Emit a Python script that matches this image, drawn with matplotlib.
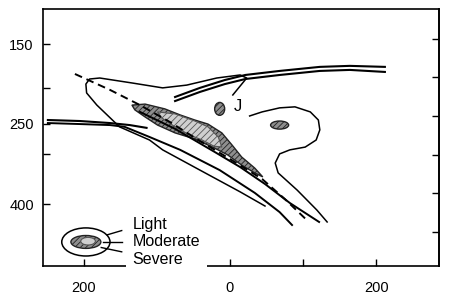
import numpy as np
import matplotlib.pyplot as plt
from matplotlib.patches import Ellipse, Polygon

plt.rcParams['font.family'] = ['Liberation Sans', 'DejaVu Sans']
plt.rcParams['hatch.linewidth'] = 0.6

# x: distance, z: height (km, standard atmosphere)
# upper-right double line
dbl_up_x = [-75, -41, -7, 21, 68, 123, 164, 212]
dbl_up_z1 = [11.42, 11.78, 12.09, 12.29, 12.45, 12.61, 12.65, 12.61]
dbl_up_z2 = [11.26, 11.62, 11.93, 12.13, 12.29, 12.45, 12.49, 12.41]

# left double line (upper strand stops, lower strand runs down the slope)
dbl_left_x1 = [-249, -205, -164, -137, -114]
dbl_left_z1 = [10.51, 10.47, 10.39, 10.31, 10.20]
dbl_left_x2 = [-249, -205, -164, -144, -110, -68, -14, 34, 68, 85]
dbl_left_z2 = [10.39, 10.35, 10.31, 10.24, 9.84, 9.33, 8.53, 7.63, 6.87, 6.36]

# light turbulence contour, left part (ends at the J label)
light_a_x = [48, 14, -41, -92, -110, -151, -182, -196, -197, -192, -178,
             -133, -92, -59, -18, 14, 23, 4]
light_a_z = [7.11, 7.67, 8.53, 9.33, 9.72, 10.24, 11.10, 11.58, 11.93, 12.13,
             12.17, 11.97, 11.78, 11.89, 12.17, 12.29, 12.17, 11.50]
# light contour, right part
light_b_x = [27, 44, 68, 89, 110, 121, 123, 118, 103, 82, 68, 62, 66, 92, 119, 133]
light_b_z = [10.67, 10.83, 10.99, 11.03, 10.83, 10.51, 10.12, 9.72, 9.44, 9.33,
             9.17, 8.81, 8.42, 7.74, 6.95, 6.48]

# dashed axis
dash_x = [-212, -164, -123, -82, -41, 0, 44, 75, 105]
dash_z = [12.33, 11.70, 11.10, 10.43, 9.68, 8.97, 8.18, 7.39, 6.56]

# solid line under the core
core_x = [-123, -75, -21, 14, 48, 82, 122]
core_z = [10.83, 10.16, 9.25, 8.65, 7.98, 7.23, 6.48]

# moderate area
mod_x = [-134, -116, -89, -68, -48, -30, -11, 3, 16, 34, 45,
         34, 16, -3, -21, -48, -75, -99, -116, -130]
mod_z = [11.10, 11.14, 10.95, 10.71, 10.51, 10.35, 10.00, 9.52, 9.05, 8.61, 8.26,
         8.42, 8.73, 9.13, 9.40, 9.76, 10.00, 10.31, 10.63, 10.91]

# severe area
sev_x = [-99, -75, -48, -30, -16, -11, -22, -38, -55, -75, -93]
sev_z = [10.83, 10.75, 10.47, 10.24, 9.84, 9.44, 9.48, 9.72, 9.92, 10.24, 10.59]

# isolated spots
spot_x = [-14, 68]
spot_z = [10.95, 10.31]
spot_w = [13.7, 24.7]
spot_h = [0.51, 0.32]

p_ticks = [150, 200, 250, 300, 400]
p_labels = ['150', '', '250', '', '400']
kft_ticks = [20, 25, 30, 35, 40, 45]
x_ticks = [-200, 0, 100, 200]
x_labels = ['200', '0', '', '200']


def p_to_km(p):
    return 44.33 * (1 - (np.asarray(p, dtype=float) / 1013.25) ** 0.19026)


fig = plt.figure(figsize=(4.52, 2.99), dpi=100)
ax = fig.add_axes([0.0962, 0.1104, 0.875, 0.858])
ax.set_xlim(-255, 286)
ax.set_ylim(4.74, 14.88)

ax.add_patch(Polygon(np.column_stack([mod_x, mod_z]), closed=True,
                     facecolor='#8e8e8e', edgecolor='#222222', hatch='//////',
                     lw=1.0, zorder=2))
ax.add_patch(Polygon(np.column_stack([sev_x, sev_z]), closed=True,
                     facecolor='#cfcfcf', edgecolor='#555555', hatch='/////',
                     lw=0.8, zorder=2.1))
for x, z, w, h in zip(spot_x, spot_z, spot_w, spot_h):
    ax.add_patch(Ellipse((x, z), w, h, facecolor='#8e8e8e', edgecolor='#222222',
                         hatch='//////', lw=1.0, zorder=2))

ax.plot(dbl_up_x, dbl_up_z1, color='black', lw=1.5)
ax.plot(dbl_up_x, dbl_up_z2, color='black', lw=1.5)
ax.plot(dbl_left_x1, dbl_left_z1, color='black', lw=1.5)
ax.plot(dbl_left_x2, dbl_left_z2, color='black', lw=1.4)
ax.plot(light_a_x, light_a_z, color='black', lw=1.1)
ax.plot(light_b_x, light_b_z, color='black', lw=1.1)
ax.plot(core_x, core_z, color='black', lw=1.4, zorder=2.2)
ax.plot(dash_x, dash_z, color='black', lw=1.4, ls=(0, (4, 2.5)), zorder=2.2)

ax.text(11, 11.03, 'J', fontsize=12, ha='center', va='center')

# legend sketch
lx, lz = -197, 5.69
ax.add_patch(Ellipse((lx, lz), 66, 1.11, facecolor='white', edgecolor='black', lw=1.1))
ax.add_patch(Ellipse((lx, lz), 41, 0.51, facecolor='#8e8e8e', edgecolor='#222222',
                     hatch='//////', lw=1.0))
ax.add_patch(Ellipse((lx + 3, lz + 0.03), 20, 0.3, facecolor='#cfcfcf',
                     edgecolor='#555555', lw=0.8))
ax.plot([-168, -148], [5.97, 6.14], color='black', lw=1.0)
ax.plot([-174, -148], [5.69, 5.69], color='black', lw=1.0)
ax.plot([-176, -148], [5.47, 5.30], color='black', lw=1.0)
ax.text(-133, 5.69, 'Light\nModerate\nSevere', fontsize=11.5, ha='left',
        va='center', linespacing=1.2,
        bbox=dict(facecolor='white', edgecolor='none', pad=5))

ax.set_yticks(p_to_km(p_ticks))
ax.set_yticklabels(p_labels)
ax.set_xticks(x_ticks)
ax.set_xticklabels(x_labels)
ax.tick_params(axis='both', direction='in', length=5, width=1.0, labelsize=10.5)
ax.tick_params(axis='y', pad=7)
ax.tick_params(axis='x', pad=11)
for s in ax.spines.values():
    s.set_linewidth(1.2)

ax2 = ax.twinx()
ax2.set_ylim(ax.get_ylim())
ax2.set_yticks(np.array(kft_ticks) * 0.3048)
ax2.set_yticklabels([])
ax2.tick_params(axis='y', direction='in', length=5, width=1.0)
for k in ['top', 'bottom', 'left']:
    ax2.spines[k].set_visible(False)
ax2.spines['right'].set_linewidth(1.2)

fig.savefig('out.png', dpi=100)
